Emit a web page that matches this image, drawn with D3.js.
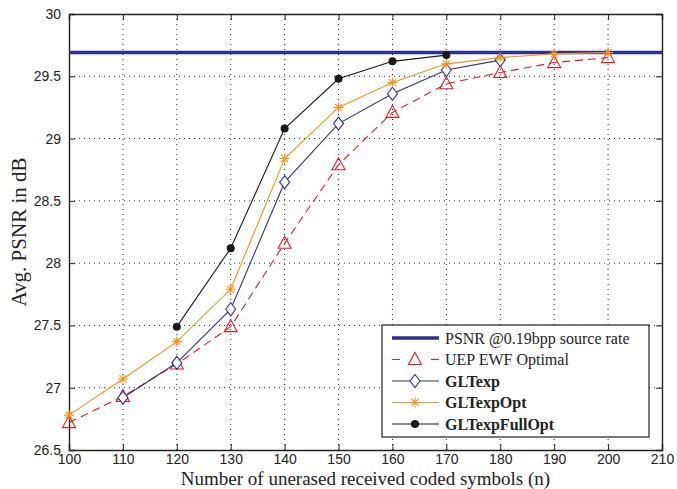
<!DOCTYPE html>
<html>
<head>
<meta charset="utf-8">
<script src="https://cdn.jsdelivr.net/npm/d3@7"></script>
<style>
  html, body { margin: 0; padding: 0; background: #fff; }
  svg { display: block; }
</style>
</head>
<body>
<svg id="chart" width="677" height="489"></svg>
<script>
// Received coded symbols (n) and average PSNR per scheme
const xTicks = [100, 110, 120, 130, 140, 150, 160, 170, 180, 190, 200, 210];
const yTicks = [26.5, 27, 27.5, 28, 28.5, 29, 29.5, 30];
const yTickLabels = ["26.5", "27", "27.5", "28", "28.5", "29", "29.5", "30"];

const psnrSource = 29.69;

const nUEP = [100, 110, 120, 130, 140, 150, 160, 170, 180, 190, 200];
const uep = [26.72, 26.93, 27.19, 27.49, 28.16, 28.79, 29.21, 29.44, 29.53, 29.61, 29.65];

const nGLTexp = [110, 120, 130, 140, 150, 160, 170, 180];
const gltExp = [26.92, 27.20, 27.63, 28.65, 29.12, 29.36, 29.55, 29.63];

const nGLTexpOpt = [100, 110, 120, 130, 140, 150, 160, 170, 180, 190, 200];
const gltExpOpt = [26.78, 27.07, 27.37, 27.79, 28.84, 29.25, 29.45, 29.60, 29.65, 29.68, 29.69];

const nGLTexpFullOpt = [120, 130, 140, 150, 160, 170];
const gltExpFullOpt = [27.49, 28.12, 29.08, 29.48, 29.62, 29.67];

const legendLabels = ["PSNR @0.19bpp source rate", "UEP EWF Optimal", "GLTexp", "GLTexpOpt", "GLTexpFullOpt"];

const colors = {
  psnr: "#2e3192",
  uep: "#ed1c24",
  exp: "#2e3192",
  opt: "#f7941d",
  full: "#1a1a1a"
};

const svg = d3.select("#chart");
const m = { left: 69, right: 15, top: 14, bottom: 39 };
const W = 677, H = 489;
const x = d3.scaleLinear().domain([100, 210]).range([m.left, W - m.right]);
const y = d3.scaleLinear().domain([26.5, 30]).range([H - m.bottom, m.top]);

const g = svg.append("g");

// dotted grid
g.append("g").selectAll("line").data(xTicks.slice(1, -1)).join("line")
  .attr("x1", d => x(d)).attr("x2", d => x(d))
  .attr("y1", y(30)).attr("y2", y(26.5))
  .attr("stroke", "#222").attr("stroke-width", 1)
  .attr("stroke-dasharray", "1,4");
g.append("g").selectAll("line").data(yTicks.slice(1, -1)).join("line")
  .attr("y1", d => y(d)).attr("y2", d => y(d))
  .attr("x1", x(100)).attr("x2", x(210))
  .attr("stroke", "#222").attr("stroke-width", 1)
  .attr("stroke-dasharray", "1,4");

// axes with inward ticks on all four sides
const tickFont = "'Liberation Sans', Arial, sans-serif";
const xb = g.append("g").attr("transform", `translate(0,${y(26.5)})`)
  .call(d3.axisBottom(x).tickValues(xTicks).tickSize(-6).tickPadding(4).tickFormat(d3.format("d")));
const xt = g.append("g").attr("transform", `translate(0,${y(30)})`)
  .call(d3.axisTop(x).tickValues(xTicks).tickSize(-6).tickFormat(""));
const yl = g.append("g").attr("transform", `translate(${x(100)},0)`)
  .call(d3.axisLeft(y).tickValues(yTicks).tickSize(-6).tickPadding(8).tickFormat((d, i) => yTickLabels[i]));
const yr = g.append("g").attr("transform", `translate(${x(210)},0)`)
  .call(d3.axisRight(y).tickValues(yTicks).tickSize(-6).tickFormat(""));
[xb, xt, yl, yr].forEach(a => {
  a.select(".domain").attr("stroke", "#222").attr("stroke-width", 1.4);
  a.selectAll(".tick line").attr("stroke", "#222").attr("stroke-width", 1);
  a.selectAll("text").attr("font-family", tickFont).attr("font-size", "14px").attr("fill", "#222");
});

// reference PSNR line
g.append("line")
  .attr("x1", x(100)).attr("x2", x(210))
  .attr("y1", y(psnrSource)).attr("y2", y(psnrSource))
  .attr("stroke", colors.psnr).attr("stroke-width", 3.5);

const line = d3.line();
function series(xs, ys, color, dash) {
  const pts = xs.map((v, i) => [x(v), y(ys[i])]);
  g.append("path").attr("d", line(pts))
    .attr("fill", "none").attr("stroke", color).attr("stroke-width", 1.1)
    .attr("stroke-dasharray", dash || null);
  return pts;
}

function triangle(sel, cx, cy, color) {
  sel.append("path")
    .attr("d", `M${cx},${cy - 7} L${cx + 6.5},${cy + 5} L${cx - 6.5},${cy + 5} Z`)
    .attr("fill", "none").attr("stroke", color).attr("stroke-width", 1.1);
}
function diamond(sel, cx, cy, color) {
  sel.append("path")
    .attr("d", `M${cx},${cy - 6.5} L${cx + 5},${cy} L${cx},${cy + 6.5} L${cx - 5},${cy} Z`)
    .attr("fill", "#fff").attr("stroke", color).attr("stroke-width", 1.1);
}
function asterisk(sel, cx, cy, color) {
  const r = 5;
  const p = [];
  for (let k = 0; k < 4; k++) {
    const a = k * Math.PI / 4;
    p.push(`M${cx - r * Math.cos(a)},${cy - r * Math.sin(a)} L${cx + r * Math.cos(a)},${cy + r * Math.sin(a)}`);
  }
  sel.append("path").attr("d", p.join(" "))
    .attr("fill", "none").attr("stroke", color).attr("stroke-width", 1.1);
}
function dot(sel, cx, cy, color) {
  sel.append("circle").attr("cx", cx).attr("cy", cy).attr("r", 4).attr("fill", color);
}

const pU = series(nUEP, uep, colors.uep, "8,5");
pU.forEach(p => triangle(g, p[0], p[1], colors.uep));

const pE = series(nGLTexp, gltExp, colors.exp);
pE.forEach(p => diamond(g, p[0], p[1], colors.exp));

const pO = series(nGLTexpOpt, gltExpOpt, colors.opt);
pO.forEach(p => asterisk(g, p[0], p[1], colors.opt));

const pF = series(nGLTexpFullOpt, gltExpFullOpt, colors.full);
pF.forEach(p => dot(g, p[0], p[1], colors.full));

// axis titles
const serif = "'Liberation Serif', 'Times New Roman', serif";
svg.append("text").attr("x", (x(100) + x(210)) / 2).attr("y", 484.8)
  .attr("text-anchor", "middle").attr("font-family", serif).attr("font-size", "19px").attr("fill", "#222")
  .text("Number of unerased received coded symbols (n)");
svg.append("text").attr("transform", `translate(26,${(y(26.5) + y(30)) / 2}) rotate(-90)`)
  .attr("text-anchor", "middle").attr("font-family", serif).attr("font-size", "21px").attr("fill", "#222")
  .text("Avg. PSNR in dB");

// legend
const lg = svg.append("g");
const lx0 = 382, ly0 = 325, lw = 267, lh = 112;
lg.append("rect").attr("x", lx0).attr("y", ly0).attr("width", lw).attr("height", lh)
  .attr("fill", "#fff").attr("stroke", "#222").attr("stroke-width", 1.2);
const rowY = d3.scalePoint().domain(d3.range(legendLabels.length)).range([338, 424]);
const sx1 = 392, sx2 = 439, smid = 415, tx = 445;
legendLabels.forEach((lab, i) => {
  const yy = rowY(i);
  if (i === 0) {
    lg.append("line").attr("x1", sx1).attr("x2", sx2).attr("y1", yy).attr("y2", yy)
      .attr("stroke", colors.psnr).attr("stroke-width", 3.5);
  } else if (i === 1) {
    lg.append("line").attr("x1", sx1).attr("x2", sx2).attr("y1", yy).attr("y2", yy)
      .attr("stroke", colors.uep).attr("stroke-width", 1.1).attr("stroke-dasharray", "8,31");
    lg.append("line").attr("x1", sx2 - 8).attr("x2", sx2).attr("y1", yy).attr("y2", yy)
      .attr("stroke", colors.uep).attr("stroke-width", 1.1);
    triangle(lg, smid, yy, colors.uep);
  } else {
    const c = [colors.exp, colors.opt, colors.full][i - 2];
    lg.append("line").attr("x1", sx1).attr("x2", sx2).attr("y1", yy).attr("y2", yy)
      .attr("stroke", c).attr("stroke-width", 1.1);
    [diamond, asterisk, dot][i - 2](lg, smid, yy, c);
  }
  lg.append("text").attr("x", tx).attr("y", yy + 5.5)
    .attr("font-family", serif).attr("font-size", "16px").attr("fill", "#222")
    .attr("font-weight", i >= 2 ? "bold" : "normal")
    .text(lab);
});
</script>
</body>
</html>
